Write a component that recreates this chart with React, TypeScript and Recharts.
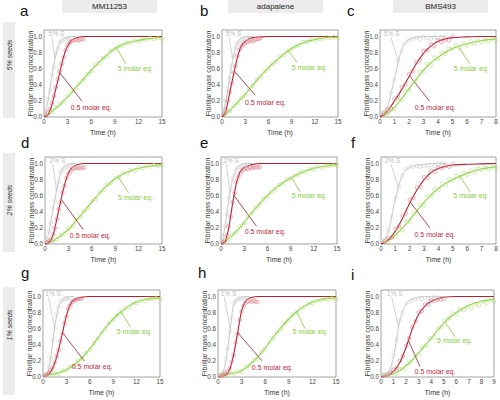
import React from "react";
import {
  ComposedChart,
  Line,
  Scatter,
  XAxis,
  YAxis,
  ReferenceArea,
  ReferenceLine,
  ReferenceDot,
} from "recharts";

// time grids (hours)
const fitHours15 = [0, 0.5, 1, 1.5, 2, 2.5, 3, 3.5, 4, 5, 6, 7, 8, 9, 10, 11, 12, 13, 14, 15];
const fitHours8 = [0, 0.5, 1, 1.5, 2, 2.5, 3, 3.5, 4, 4.5, 5, 6, 7, 8];
const fitHours9 = [0, 0.5, 1, 1.5, 2, 2.5, 3, 3.5, 4, 4.5, 5, 6, 7, 8, 9];
const grayObsHours15 = [0.25, 0.5, 0.75, 1, 1.25, 1.5, 1.75, 2, 2.25, 2.5, 2.75, 3, 3.25, 3.5];
const grayObsHoursShort = [0.25, 0.5, 0.75, 1, 1.25, 1.5, 1.75, 2, 2.25, 2.5, 2.75, 3, 3.25, 3.5, 3.75, 4, 4.25, 4.5];
const redObsHours = [0.25, 0.5, 0.75, 1, 1.25, 1.5, 1.75, 2, 2.25, 2.5, 2.75, 3, 3.25, 3.5, 3.75, 4, 4.25, 4.5, 4.75, 5];
const greenObsHours15 = [0.5, 1, 1.5, 2, 2.5, 3, 3.5, 4, 4.5, 5, 5.5, 6, 6.5, 7, 7.5, 8, 8.5, 9, 9.5, 10, 10.5, 11, 11.5, 12, 12.5, 13, 13.5, 14, 14.5, 15];
const greenObsHours8 = [0.25, 0.5, 0.75, 1, 1.25, 1.5, 1.75, 2, 2.25, 2.5, 2.75, 3, 3.25, 3.5, 3.75, 4, 4.25, 4.5, 4.75, 5, 5.25, 5.5, 5.75, 6, 6.25, 6.5, 6.75, 7, 7.25, 7.5, 7.75, 8];
const greenObsHours9 = [0.3, 0.6, 0.9, 1.2, 1.5, 1.8, 2.1, 2.4, 2.7, 3, 3.3, 3.6, 3.9, 4.2, 4.5, 4.8, 5.1, 5.4, 5.7, 6, 6.3, 6.6, 6.9, 7.2, 7.5, 7.8, 8.1, 8.4, 8.7, 9];

const ticks15 = [0, 3, 6, 9, 12, 15];
const ticks8 = [0, 1, 2, 3, 4, 5, 6, 7, 8];
const ticks9 = [0, 1, 2, 3, 4, 5, 6, 7, 8, 9];
const yTicks = [0, 0.2, 0.4, 0.6, 0.8, 1];

const drugs = ["MM11253", "adapalene", "BMS493"];
const seedRows = ["5% seeds", "2% seeds", "1% seeds"];
const seedTags = ["5% S", "2% S", "1% S"];
const letters = ["a", "b", "c", "d", "e", "f", "g", "h", "i"];

// a: MM11253, 5% seeds
const aGrayFit = [0, 0.2, 0.5, 0.77, 0.92, 0.97, 0.99, 1, 1];
const aRedFit = [0, 0.03, 0.15, 0.35, 0.55, 0.75, 0.88, 0.95, 0.98, 1, 1, 1, 1, 1, 1, 1, 1, 1, 1, 1];
const aGreenFit = [0, 0.03, 0.07, 0.11, 0.15, 0.2, 0.25, 0.3, 0.36, 0.47, 0.58, 0.68, 0.77, 0.85, 0.9, 0.93, 0.95, 0.97, 0.98, 0.99];
const aGrayObs = [0.08, 0.22, 0.33, 0.52, 0.62, 0.79, 0.85, 0.93, 0.94, 0.96, 0.97, 0.98, 0.97, 0.98];
const aRedObs = [0.02, 0.05, 0.1, 0.17, 0.26, 0.37, 0.47, 0.57, 0.66, 0.74, 0.83, 0.89, 0.92, 0.94, 0.95, 0.96, 0.95, 0.96, 0.97, 0.96];
const aGreenObs = [0.04, 0.06, 0.12, 0.16, 0.19, 0.26, 0.31, 0.35, 0.42, 0.46, 0.53, 0.57, 0.64, 0.67, 0.73, 0.76, 0.82, 0.84, 0.88, 0.89, 0.92, 0.92, 0.95, 0.94, 0.96, 0.96, 0.98, 0.97, 0.98, 0.97];

// b: adapalene, 5% seeds
const bGrayFit = [0, 0.2, 0.5, 0.76, 0.92, 0.98, 1, 1, 1];
const bRedFit = [0, 0.08, 0.3, 0.53, 0.74, 0.88, 0.94, 0.97, 0.985, 0.995, 1, 1, 1, 1, 1, 1, 1, 1, 1, 1];
const bGreenFit = [0, 0.04, 0.08, 0.13, 0.18, 0.23, 0.28, 0.34, 0.4, 0.51, 0.61, 0.7, 0.78, 0.85, 0.9, 0.94, 0.96, 0.98, 0.99, 0.99];
const bGrayObs = [0.09, 0.21, 0.36, 0.48, 0.64, 0.75, 0.86, 0.91, 0.94, 0.96, 0.97, 0.98, 0.98, 0.97];
const bRedObs = [0.03, 0.09, 0.2, 0.31, 0.42, 0.55, 0.63, 0.76, 0.83, 0.87, 0.9, 0.92, 0.93, 0.94, 0.95, 0.94, 0.96, 0.97, 0.97, 0.98];
const bGreenObs = [0.05, 0.07, 0.14, 0.17, 0.24, 0.27, 0.35, 0.39, 0.46, 0.5, 0.57, 0.6, 0.66, 0.69, 0.75, 0.77, 0.82, 0.84, 0.88, 0.89, 0.93, 0.93, 0.96, 0.95, 0.97, 0.97, 0.99, 0.98, 0.99, 0.98];

// c: BMS493, 5% seeds
const cGrayFit = [0.01, 0.12, 0.48, 0.84, 0.96, 0.99, 1, 1, 1, 1];
const cRedFit = [0, 0.07, 0.2, 0.34, 0.5, 0.66, 0.79, 0.88, 0.94, 0.97, 0.985, 0.995, 1, 1];
const cGreenFit = [0, 0.04, 0.12, 0.23, 0.35, 0.47, 0.58, 0.67, 0.74, 0.8, 0.85, 0.91, 0.95, 0.97];
const cGrayObs = [0.06, 0.1, 0.3, 0.46, 0.69, 0.82, 0.92, 0.95, 0.97, 0.98, 0.97, 0.99, 0.98, 0.97, 0.99, 0.98, 0.99, 1];
const cRedObs = [0.04, 0.09, 0.11, 0.23, 0.25, 0.37, 0.4, 0.53, 0.57, 0.68, 0.71, 0.82, 0.83, 0.9, 0.88, 0.95, 0.93, 0.96, 0.95, 1];
const cGreenObs = [0.05, 0.02, 0.1, 0.1, 0.2, 0.21, 0.32, 0.33, 0.44, 0.45, 0.56, 0.57, 0.66, 0.64, 0.74, 0.72, 0.8, 0.79, 0.85, 0.84, 0.89, 0.86, 0.92, 0.89, 0.94, 0.91, 0.95, 0.93, 0.96, 0.94, 0.97, 0.95];

// d: MM11253, 2% seeds
const dGrayFit = [0, 0.15, 0.42, 0.67, 0.88, 0.96, 0.99, 1, 1];
const dRedFit = [0, 0.02, 0.1, 0.3, 0.53, 0.73, 0.88, 0.95, 0.98, 1, 1, 1, 1, 1, 1, 1, 1, 1, 1, 1];
const dGreenFit = [0, 0.02, 0.04, 0.07, 0.1, 0.14, 0.18, 0.23, 0.29, 0.4, 0.52, 0.63, 0.73, 0.81, 0.87, 0.91, 0.94, 0.96, 0.975, 0.985];
const dGrayObs = [0.06, 0.16, 0.27, 0.44, 0.54, 0.68, 0.77, 0.89, 0.92, 0.95, 0.96, 0.97, 0.98, 0.97];
const dRedObs = [0.02, 0.03, 0.06, 0.12, 0.2, 0.31, 0.43, 0.52, 0.64, 0.72, 0.82, 0.87, 0.9, 0.93, 0.94, 0.95, 0.94, 0.95, 0.94, 0.95];
const dGreenObs = [0.03, 0.04, 0.06, 0.11, 0.13, 0.19, 0.22, 0.3, 0.34, 0.41, 0.45, 0.53, 0.56, 0.64, 0.67, 0.74, 0.76, 0.82, 0.83, 0.88, 0.88, 0.92, 0.91, 0.95, 0.94, 0.97, 0.96, 0.98, 0.97, 0.98];

// e: adapalene, 2% seeds
const eGrayFit = [0, 0.2, 0.55, 0.8, 0.93, 0.98, 1, 1, 1];
const eRedFit = [0, 0.03, 0.2, 0.5, 0.76, 0.9, 0.95, 0.97, 0.985, 1, 1, 1, 1, 1, 1, 1, 1, 1, 1, 1];
const eGreenFit = [0, 0.03, 0.07, 0.11, 0.16, 0.21, 0.27, 0.33, 0.39, 0.5, 0.6, 0.69, 0.76, 0.82, 0.87, 0.91, 0.94, 0.96, 0.975, 0.985];
const eGrayObs = [0.09, 0.22, 0.37, 0.57, 0.67, 0.81, 0.86, 0.92, 0.95, 0.96, 0.97, 0.98, 0.97, 0.98];
const eRedObs = [0.02, 0.04, 0.11, 0.22, 0.34, 0.52, 0.63, 0.77, 0.83, 0.88, 0.91, 0.93, 0.94, 0.93, 0.95, 0.94, 0.95, 0.96, 0.95, 0.96];
const eGreenObs = [0.04, 0.06, 0.12, 0.15, 0.22, 0.26, 0.34, 0.38, 0.45, 0.49, 0.56, 0.59, 0.65, 0.68, 0.73, 0.75, 0.8, 0.81, 0.85, 0.86, 0.9, 0.9, 0.93, 0.93, 0.96, 0.95, 0.97, 0.97, 0.98, 0.98];

// f: BMS493, 2% seeds
const fGrayFit = [0.01, 0.15, 0.56, 0.86, 0.95, 0.98, 0.99, 1, 1, 1];
const fRedFit = [0, 0.05, 0.16, 0.32, 0.51, 0.67, 0.8, 0.89, 0.94, 0.965, 0.98, 0.99, 0.995, 1];
const fGreenFit = [0, 0.04, 0.11, 0.2, 0.3, 0.41, 0.52, 0.61, 0.69, 0.75, 0.8, 0.88, 0.93, 0.96];
const fGrayObs = [0.05, 0.17, 0.33, 0.58, 0.71, 0.85, 0.93, 0.96, 0.96, 0.97, 0.96, 0.97, 0.97, 0.98, 0.97, 0.99, 1, 0.99];
const fRedObs = [0.03, 0.07, 0.08, 0.19, 0.22, 0.35, 0.38, 0.55, 0.57, 0.7, 0.71, 0.83, 0.82, 0.91, 0.9, 0.95, 0.94, 0.97, 0.96, 0.99];
const fGreenObs = [0.04, 0.02, 0.09, 0.09, 0.18, 0.17, 0.28, 0.27, 0.38, 0.39, 0.49, 0.48, 0.59, 0.6, 0.68, 0.67, 0.75, 0.73, 0.81, 0.79, 0.85, 0.83, 0.88, 0.86, 0.91, 0.89, 0.94, 0.92, 0.95, 0.93, 0.96, 0.94];

// g: MM11253, 1% seeds
const gGrayFit = [0, 0.03, 0.25, 0.62, 0.88, 0.96, 0.99, 1, 1];
const gRedFit = [0.01, 0.02, 0.07, 0.17, 0.34, 0.55, 0.76, 0.9, 0.96, 0.99, 1, 1, 1, 1, 1, 1, 1, 1, 1, 1];
const gGreenFit = [0.01, 0.02, 0.03, 0.04, 0.05, 0.07, 0.09, 0.12, 0.15, 0.24, 0.35, 0.48, 0.61, 0.72, 0.81, 0.88, 0.93, 0.96, 0.975, 0.985];
const gGrayObs = [0.02, 0.04, 0.12, 0.23, 0.46, 0.6, 0.79, 0.87, 0.94, 0.95, 0.97, 0.98, 0.97, 0.98];
const gRedObs = [0.02, 0.03, 0.05, 0.08, 0.12, 0.18, 0.26, 0.33, 0.45, 0.54, 0.67, 0.75, 0.85, 0.89, 0.93, 0.95, 0.96, 0.97, 0.97, 0.98];
const gGreenObs = [0.03, 0.02, 0.05, 0.04, 0.08, 0.08, 0.13, 0.14, 0.2, 0.23, 0.3, 0.34, 0.42, 0.47, 0.55, 0.6, 0.67, 0.71, 0.77, 0.8, 0.85, 0.87, 0.91, 0.92, 0.95, 0.95, 0.97, 0.97, 0.98, 0.97];

// h: adapalene, 1% seeds
const hGrayFit = [0, 0.02, 0.2, 0.55, 0.9, 0.97, 0.99, 1, 1];
const hRedFit = [0, 0.01, 0.03, 0.1, 0.28, 0.55, 0.82, 0.94, 0.98, 1, 1, 1, 1, 1, 1, 1, 1, 1, 1, 1];
const hGreenFit = [0.01, 0.02, 0.03, 0.04, 0.05, 0.06, 0.08, 0.11, 0.15, 0.24, 0.36, 0.49, 0.61, 0.72, 0.81, 0.88, 0.93, 0.96, 0.975, 0.985];
const hGrayObs = [0.02, 0.03, 0.07, 0.22, 0.35, 0.57, 0.73, 0.91, 0.94, 0.96, 0.97, 0.98, 0.97, 0.96];
const hRedObs = [0.01, 0.02, 0.03, 0.04, 0.07, 0.11, 0.19, 0.27, 0.43, 0.54, 0.71, 0.81, 0.88, 0.92, 0.94, 0.95, 0.93, 0.95, 0.94, 0.93];
const hGreenObs = [0.03, 0.02, 0.05, 0.04, 0.07, 0.07, 0.12, 0.14, 0.2, 0.23, 0.31, 0.35, 0.43, 0.48, 0.56, 0.6, 0.67, 0.71, 0.77, 0.8, 0.85, 0.87, 0.91, 0.92, 0.95, 0.95, 0.97, 0.96, 0.98, 0.97];

// i: BMS493, 1% seeds
const iGrayFit = [0, 0.03, 0.25, 0.7, 0.9, 0.97, 0.99, 1, 1, 1, 1];
const iRedFit = [0, 0.02, 0.07, 0.18, 0.37, 0.6, 0.78, 0.88, 0.94, 0.97, 0.99, 1, 1, 1, 1];
const iGreenFit = [0.01, 0.02, 0.04, 0.08, 0.14, 0.21, 0.3, 0.39, 0.48, 0.58, 0.67, 0.8, 0.89, 0.94, 0.97];
const iGrayObs = [0.02, 0.04, 0.09, 0.27, 0.46, 0.71, 0.8, 0.91, 0.93, 0.96, 0.97, 0.98, 0.97, 0.98, 0.97, 0.98, 0.99, 0.98];
const iRedObs = [0.02, 0.03, 0.05, 0.09, 0.11, 0.2, 0.26, 0.39, 0.48, 0.62, 0.69, 0.8, 0.82, 0.9, 0.9, 0.95, 0.94, 0.96, 0.96, 0.97];
const iGreenObs = [0.03, 0.01, 0.05, 0.04, 0.1, 0.1, 0.17, 0.19, 0.26, 0.28, 0.37, 0.39, 0.48, 0.5, 0.6, 0.62, 0.7, 0.73, 0.79, 0.78, 0.84, 0.83, 0.87, 0.86, 0.9, 0.89, 0.93, 0.92, 0.95, 0.94];

const GRAY = "#c6c6c6";
const GRAY_DOT = "#d2d2d2";
const RED = "#b3202e";
const RED_DOT = "#dc7886";
const RED_TEXT = "#c0283a";
const GREEN = "#8fd14a";
const GREEN_DOT = "#addf74";
const GREEN_TEXT = "#88cc3a";
const Y_MAX = 1.08;
const PLOT_H = 87;
const FONT = '"Liberation Sans", Arial, sans-serif';

const toPoints = (hours: number[], values: number[]) =>
  values.map((v, i) => ({ t: hours[i], v }));

const ring = (color: string) => (props: any) => (
  <circle cx={props.cx} cy={props.cy} r={1.8} fill="none" stroke={color} strokeWidth={0.6} />
);

type Pt = [number, number];
interface PanelSpec {
  x: number;
  y: number;
  w: number;
  xMax: number;
  xTicks: number[];
  fitHours: number[];
  grayHours: number[];
  greenHours: number[];
  fits: number[][];
  obs: number[][];
  tag: string;
  tagAt: Pt;
  tagLine: Pt[];
  redLine: Pt[];
  redAt: Pt;
  greenLine: Pt[];
  greenAt: Pt;
}

const panels: PanelSpec[] = [
  { x: 44, y: 30, w: 118, xMax: 15, xTicks: ticks15, fitHours: fitHours15, grayHours: grayObsHours15, greenHours: greenObsHours15,
    fits: [aGrayFit, aRedFit, aGreenFit], obs: [aGrayObs, aRedObs, aGreenObs], tag: seedTags[0],
    tagAt: [1.6, 1.03], tagLine: [[1.0, 0.99], [1.4, 0.72]], redLine: [[2.0, 0.55], [4.8, 0.2]], redAt: [6.0, 0.12],
    greenLine: [[9.2, 0.86], [10.4, 0.66]], greenAt: [11.6, 0.6] },
  { x: 222, y: 30, w: 116, xMax: 15, xTicks: ticks15, fitHours: fitHours15, grayHours: grayObsHours15, greenHours: greenObsHours15,
    fits: [bGrayFit, bRedFit, bGreenFit], obs: [bGrayObs, bRedObs, bGreenObs], tag: seedTags[0],
    tagAt: [1.5, 1.03], tagLine: [[0.9, 0.99], [1.4, 0.72]], redLine: [[1.6, 0.57], [4.3, 0.27]], redAt: [5.6, 0.18],
    greenLine: [[8.6, 0.82], [9.7, 0.68]], greenAt: [11.3, 0.62] },
  { x: 380, y: 30, w: 116, xMax: 8, xTicks: ticks8, fitHours: fitHours8, grayHours: grayObsHoursShort, greenHours: greenObsHours8,
    fits: [cGrayFit, cRedFit, cGreenFit], obs: [cGrayObs, cRedObs, cGreenObs], tag: seedTags[0],
    tagAt: [0.8, 1.03], tagLine: [[0.75, 0.99], [1.27, 0.69]], redLine: [[2.05, 0.51], [3.4, 0.2]], redAt: [3.8, 0.12],
    greenLine: [[5.4, 0.87], [6.2, 0.66]], greenAt: [6.3, 0.6] },
  { x: 45, y: 157, w: 117, xMax: 15, xTicks: ticks15, fitHours: fitHours15, grayHours: grayObsHours15, greenHours: greenObsHours15,
    fits: [dGrayFit, dRedFit, dGreenFit], obs: [dGrayObs, dRedObs, dGreenObs], tag: seedTags[1],
    tagAt: [1.6, 1.03], tagLine: [[1.0, 0.99], [1.5, 0.66]], redLine: [[2.1, 0.55], [4.9, 0.18]], redAt: [5.8, 0.11],
    greenLine: [[9.4, 0.83], [10.7, 0.64]], greenAt: [11.6, 0.58] },
  { x: 221, y: 157, w: 116, xMax: 15, xTicks: ticks15, fitHours: fitHours15, grayHours: grayObsHours15, greenHours: greenObsHours15,
    fits: [eGrayFit, eRedFit, eGreenFit], obs: [eGrayObs, eRedObs, eGreenObs], tag: seedTags[1],
    tagAt: [1.3, 1.03], tagLine: [[0.7, 0.99], [1.15, 0.62]], redLine: [[1.7, 0.6], [4.6, 0.22]], redAt: [5.7, 0.15],
    greenLine: [[9.1, 0.83], [10.2, 0.65]], greenAt: [11.4, 0.6] },
  { x: 381, y: 157, w: 115, xMax: 8, xTicks: ticks8, fitHours: fitHours8, grayHours: grayObsHoursShort, greenHours: greenObsHours8,
    fits: [fGrayFit, fRedFit, fGreenFit], obs: [fGrayObs, fRedObs, fGreenObs], tag: seedTags[1],
    tagAt: [0.8, 1.03], tagLine: [[0.7, 0.99], [1.22, 0.7]], redLine: [[2.03, 0.52], [3.4, 0.2]], redAt: [3.75, 0.12],
    greenLine: [[5.5, 0.84], [6.2, 0.65]], greenAt: [6.25, 0.6] },
  { x: 43, y: 290, w: 117, xMax: 15, xTicks: ticks15, fitHours: fitHours15, grayHours: grayObsHours15, greenHours: greenObsHours15,
    fits: [gGrayFit, gRedFit, gGreenFit], obs: [gGrayObs, gRedObs, gGreenObs], tag: seedTags[2],
    tagAt: [1.3, 1.03], tagLine: [[0.7, 0.99], [1.5, 0.62]], redLine: [[2.5, 0.55], [5.3, 0.2]], redAt: [6.3, 0.13],
    greenLine: [[10.0, 0.81], [11.2, 0.62]], greenAt: [11.7, 0.56] },
  { x: 218, y: 290, w: 118, xMax: 15, xTicks: ticks15, fitHours: fitHours15, grayHours: grayObsHours15, greenHours: greenObsHours15,
    fits: [hGrayFit, hRedFit, hGreenFit], obs: [hGrayObs, hRedObs, hGreenObs], tag: seedTags[2],
    tagAt: [1.35, 1.03], tagLine: [[0.8, 0.99], [1.55, 0.6]], redLine: [[2.5, 0.55], [5.6, 0.2]], redAt: [6.9, 0.12],
    greenLine: [[10.0, 0.81], [11.05, 0.6]], greenAt: [11.7, 0.56] },
  { x: 381, y: 290, w: 113, xMax: 9, xTicks: ticks9, fitHours: fitHours9, grayHours: grayObsHoursShort, greenHours: greenObsHours9,
    fits: [iGrayFit, iRedFit, iGreenFit], obs: [iGrayObs, iRedObs, iGreenObs], tag: seedTags[2],
    tagAt: [1.1, 1.03], tagLine: [[0.85, 0.99], [1.4, 0.62]], redLine: [[2.2, 0.45], [3.1, 0.13]], redAt: [4.3, 0.07],
    greenLine: [[5.1, 0.68], [5.9, 0.5]], greenAt: [5.85, 0.45] },
];

const tickStyle = { fontSize: 6.3, fill: "#444", fontFamily: FONT };

const Panel = ({ p }: { p: PanelSpec }) => {
  const left = 26;
  const top = 6;
  const right = 6;
  const bottom = 20;
  const seg = (s: Pt[]) => s.map(([x, y]) => ({ x, y }));
  return (
    <div style={{ position: "absolute", left: p.x - left, top: p.y - top }}>
      <ComposedChart
        width={p.w + left + right}
        height={PLOT_H + top + bottom}
        margin={{ top, right, bottom: 0, left: 0 }}
      >
        <XAxis
          type="number"
          dataKey="t"
          domain={[0, p.xMax]}
          ticks={p.xTicks}
          interval={0}
          height={bottom}
          axisLine={false}
          tickLine={false}
          tickSize={1}
          tickMargin={2}
          tick={tickStyle}
          label={{ value: "Time (h)", position: "insideBottom", offset: 2, fontSize: 7, fill: "#333", fontFamily: FONT }}
        />
        <YAxis
          type="number"
          dataKey="v"
          domain={[0, Y_MAX]}
          ticks={yTicks}
          interval={0}
          width={left}
          axisLine={false}
          tickLine={false}
          tickSize={1}
          tickMargin={1}
          tick={tickStyle}
          tickFormatter={(v: number) => v.toFixed(1)}
          label={{ value: "Fibrillar mass concentration", angle: -90, position: "center", fontSize: 7, fill: "#333", fontFamily: FONT }}
        />
        <ReferenceArea x1={0} x2={p.xMax} y1={0} y2={Y_MAX} fill="none" stroke="#8a8a8a" strokeWidth={0.8} />
        <Scatter data={toPoints(p.grayHours, p.obs[0])} dataKey="v" shape={ring(GRAY_DOT)} isAnimationActive={false} />
        <Scatter data={toPoints(greenHoursOf(p), p.obs[2])} dataKey="v" shape={ring(GREEN_DOT)} isAnimationActive={false} />
        <Scatter data={toPoints(redObsHours, p.obs[1])} dataKey="v" shape={ring(RED_DOT)} isAnimationActive={false} />
        <Line data={toPoints(p.fitHours, p.fits[0])} dataKey="v" type="monotone" stroke={GRAY} strokeWidth={1} dot={false} isAnimationActive={false} />
        <Line data={toPoints(p.fitHours, p.fits[2])} dataKey="v" type="monotone" stroke={GREEN} strokeWidth={1.1} dot={false} isAnimationActive={false} />
        <Line data={toPoints(p.fitHours, p.fits[1])} dataKey="v" type="monotone" stroke={RED} strokeWidth={1.1} dot={false} isAnimationActive={false} />
        <ReferenceLine segment={seg(p.tagLine)} stroke={GRAY} strokeWidth={0.8} />
        <ReferenceLine segment={seg(p.redLine)} stroke="#9e1b28" strokeWidth={0.8} />
        <ReferenceLine segment={seg(p.greenLine)} stroke="#86c63c" strokeWidth={0.8} />
        <ReferenceDot x={p.tagAt[0]} y={p.tagAt[1]} r={0} fill="none" stroke="none"
          label={{ value: p.tag, position: "center", fontSize: 6.5, fill: "#bdbdbd", fontFamily: FONT }} />
        <ReferenceDot x={p.redAt[0]} y={p.redAt[1]} r={0} fill="none" stroke="none"
          label={{ value: "0.5 molar eq.", position: "center", fontSize: 7, fill: RED_TEXT, fontFamily: FONT }} />
        <ReferenceDot x={p.greenAt[0]} y={p.greenAt[1]} r={0} fill="none" stroke="none"
          label={{ value: "5 molar eq.", position: "center", fontSize: 7, fill: GREEN_TEXT, fontFamily: FONT }} />
      </ComposedChart>
    </div>
  );
};

function greenHoursOf(p: PanelSpec) {
  return p.greenHours;
}

const headerBoxes = [62, 228, 393];
const rowBoxes = [
  { top: 22, height: 96, textY: 55 },
  { top: 153, height: 99, textY: 200 },
  { top: 287, height: 108, textY: 325 },
];
const letterSpots = [
  [20, 3], [200, 3], [347, 3],
  [21, 135], [200, 135], [351, 135],
  [21, 265], [198, 265], [351, 267],
];

export default function App() {
  return (
    <div
      style={{
        position: "absolute",
        left: 0,
        top: 0,
        width: 500,
        height: 400,
        background: "#fff",
        overflow: "hidden",
        fontFamily: FONT,
      }}
    >
      {drugs.map((d, i) => (
        <div
          key={d}
          style={{
            position: "absolute",
            left: headerBoxes[i],
            top: 0,
            width: 95,
            height: 13,
            background: "#ececec",
            fontSize: 8,
            lineHeight: "13px",
            textAlign: "center",
            color: "#222",
          }}
        >
          {d}
        </div>
      ))}
      {seedRows.map((s, i) => (
        <React.Fragment key={s}>
          <div
            style={{
              position: "absolute",
              left: 3,
              top: rowBoxes[i].top,
              width: 12,
              height: rowBoxes[i].height,
              background: "#ececec",
            }}
          />
          <div
            style={{
              position: "absolute",
              left: 9,
              top: rowBoxes[i].textY,
              transform: "translate(-50%, -50%) rotate(-90deg)",
              whiteSpace: "nowrap",
              fontSize: 7,
              fontStyle: "italic",
              color: "#333",
            }}
          >
            {s}
          </div>
        </React.Fragment>
      ))}
      {letters.map((l, i) => (
        <div
          key={l}
          style={{
            position: "absolute",
            left: letterSpots[i][0],
            top: letterSpots[i][1],
            fontSize: 15,
            lineHeight: "15px",
            color: "#111",
          }}
        >
          {l}
        </div>
      ))}
      {panels.map((p, i) => (
        <Panel key={letters[i]} p={p} />
      ))}
    </div>
  );
}
